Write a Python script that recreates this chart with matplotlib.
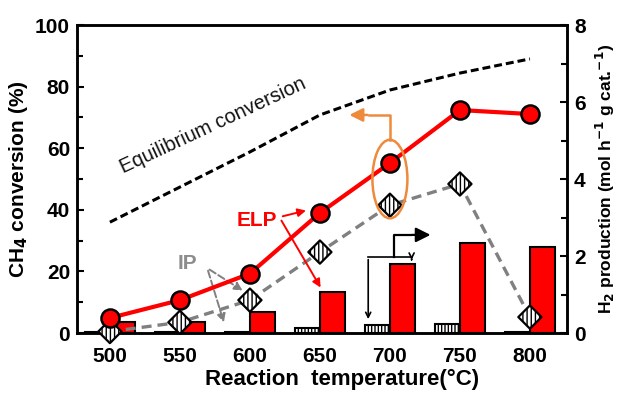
import matplotlib
matplotlib.use("Agg")
import matplotlib.pyplot as plt
import numpy as np
from matplotlib.patches import Ellipse

plt.rcParams['font.family'] = ['Liberation Sans', 'DejaVu Sans']

temps = ['500', '550', '600', '650', '700', '750', '800']
elp_conv = [4.9, 10.7, 19.3, 39.0, 55.2, 72.4, 71.1]
ip_conv = [0.5, 3.5, 10.7, 26.3, 41.5, 48.4, 5.2]
eq_conv = [36.0, 47.4, 58.8, 70.8, 78.9, 84.4, 89.0]
elp_h2 = [0.29, 0.29, 0.55, 1.07, 1.79, 2.33, 2.24]
ip_h2 = [0.03, 0.03, 0.03, 0.12, 0.22, 0.24, 0.03]

x = np.arange(len(temps))
bw = 0.36

fig = plt.figure(figsize=(6.17, 3.97), dpi=100)
ax = fig.add_axes([0.1248, 0.161, 0.7942, 0.776])
ax2 = ax.twinx()

# H2 production bars on the right axis
ax2.bar(x, ip_h2, width=-bw, align='edge', facecolor='white', edgecolor='black',
        hatch='|||||', linewidth=1.5)
ax2.bar(x, elp_h2, width=bw, align='edge', facecolor='#ff0000', edgecolor='black',
        linewidth=1.5)

# conversion curves on the left axis, drawn above the bars
ax.set_zorder(ax2.get_zorder() + 1)
ax.patch.set_visible(False)

ax.plot(x, eq_conv, color='black', lw=2.2, ls=(0, (2.6, 1.3)))
ax.plot(x, ip_conv, color='#808080', lw=2.4, ls=(0, (3, 1.8)), zorder=3)
ax.scatter(x, ip_conv, marker='D', s=140, facecolor='white', edgecolor='black',
           hatch='||||', linewidth=1.6, zorder=4, clip_on=False)
ax.plot(x, elp_conv, color='#ff0000', lw=3, marker='o', ms=13, mfc='#ff0000',
        mec='black', mew=1.8, zorder=5, clip_on=False)

ax.set_xlim(-0.47, 6.53)
ax.set_ylim(0, 100)
ax2.set_ylim(0, 8)
ax.set_xticks(x)
ax.set_xticklabels(temps)
ax.set_yticks(np.arange(0, 101, 20))
ax.set_yticks(np.arange(10, 100, 20), minor=True)
ax2.set_yticks(np.arange(0, 9, 2))
ax2.set_yticks(np.arange(1, 8, 2), minor=True)

for a in (ax, ax2):
    for s in a.spines.values():
        s.set_linewidth(1.8)
ax.tick_params(axis='x', length=0, pad=10, labelsize=15)
ax.tick_params(axis='y', which='both', direction='in', width=1.5, labelsize=15, pad=5)
ax.tick_params(axis='y', which='major', length=5)
ax.tick_params(axis='y', which='minor', length=4)
ax2.tick_params(axis='y', which='both', direction='in', width=1.5, labelsize=15, pad=5)
ax2.tick_params(axis='y', which='major', length=5)
ax2.tick_params(axis='y', which='minor', length=4)
for lab in ax.get_xticklabels() + ax.get_yticklabels() + ax2.get_yticklabels():
    lab.set_fontweight('bold')

ax.set_xlabel('Reaction  temperature(\u00b0C)', fontsize=16, fontweight='bold', labelpad=2)
ax.xaxis.set_label_coords(0.54, -0.115)
ax.set_ylabel('CH$_\\mathbf{4}$ conversion (%)', fontsize=15, fontweight='bold', labelpad=4)
ax2.set_ylabel('H$_\\mathbf{2}$ production (mol h$^\\mathbf{-1}$ g cat.$^\\mathbf{-1}$)',
               fontsize=12.5, fontweight='bold', labelpad=6)

ax.text(1.47, 67.5, 'Equilibrium conversion', rotation=25, fontsize=14.5,
        ha='center', va='center', color='#111111')

# ELP labels and arrows
ax.text(2.1, 36.7, 'ELP', color='#ff0000', fontsize=15, fontweight='bold',
        ha='center', va='center')
ax.annotate('', xy=(2.84, elp_conv[3] + 1), xytext=(2.43, 37.7),
            arrowprops=dict(arrowstyle='-|>', color='#ff0000', lw=1.4, mutation_scale=12))
ax.annotate('', xy=(3.03, 14), xytext=(2.43, 37.3),
            arrowprops=dict(arrowstyle='-|>', color='#ff0000', lw=1.4, mutation_scale=12))

# IP labels and arrows
ax.text(1.11, 22.7, 'IP', color='#8c8c8c', fontsize=15, fontweight='bold',
        ha='center', va='center')
ax.annotate('', xy=(1.93, 13.3), xytext=(1.39, 21.1),
            arrowprops=dict(arrowstyle='-|>', color='#808080', lw=1.4, ls='--',
                            mutation_scale=12))
ax.annotate('', xy=(1.64, 2.6), xytext=(1.39, 21.1),
            arrowprops=dict(arrowstyle='-|>', color='#808080', lw=1.4, ls='--',
                            mutation_scale=12))

# orange marker: 700 C conversions belong to the left axis
orange = '#ee8a3c'
ax.add_patch(Ellipse((4, 50), 0.5, 25.5, fill=False, edgecolor=orange, lw=1.8, zorder=6))
ax.plot([4, 4, 3.7], [62.7, 70.8, 70.8], color=orange, lw=1.8, zorder=6)
ax.annotate('', xy=(3.38, 70.8), xytext=(3.72, 70.8),
            arrowprops=dict(arrowstyle='-|>', color=orange, lw=1.8, mutation_scale=20))

# black bracket: 700 C bars belong to the right axis
ax2.plot([3.69, 4.31], [1.97, 1.97], color='black', lw=1.2)
ax2.annotate('', xy=(3.69, 0.29), xytext=(3.69, 1.98),
             arrowprops=dict(arrowstyle='->', color='black', lw=1.2, mutation_scale=9))
ax2.annotate('', xy=(4.31, 1.83), xytext=(4.31, 1.98),
             arrowprops=dict(arrowstyle='->', color='black', lw=1.2, mutation_scale=9))
ax2.plot([4.06, 4.06, 4.3], [1.97, 2.55, 2.55], color='black', lw=1.6)
ax2.annotate('', xy=(4.62, 2.55), xytext=(4.28, 2.55),
             arrowprops=dict(arrowstyle='-|>', color='black', lw=1.6, mutation_scale=22))

fig.savefig('out.png', dpi=100)
